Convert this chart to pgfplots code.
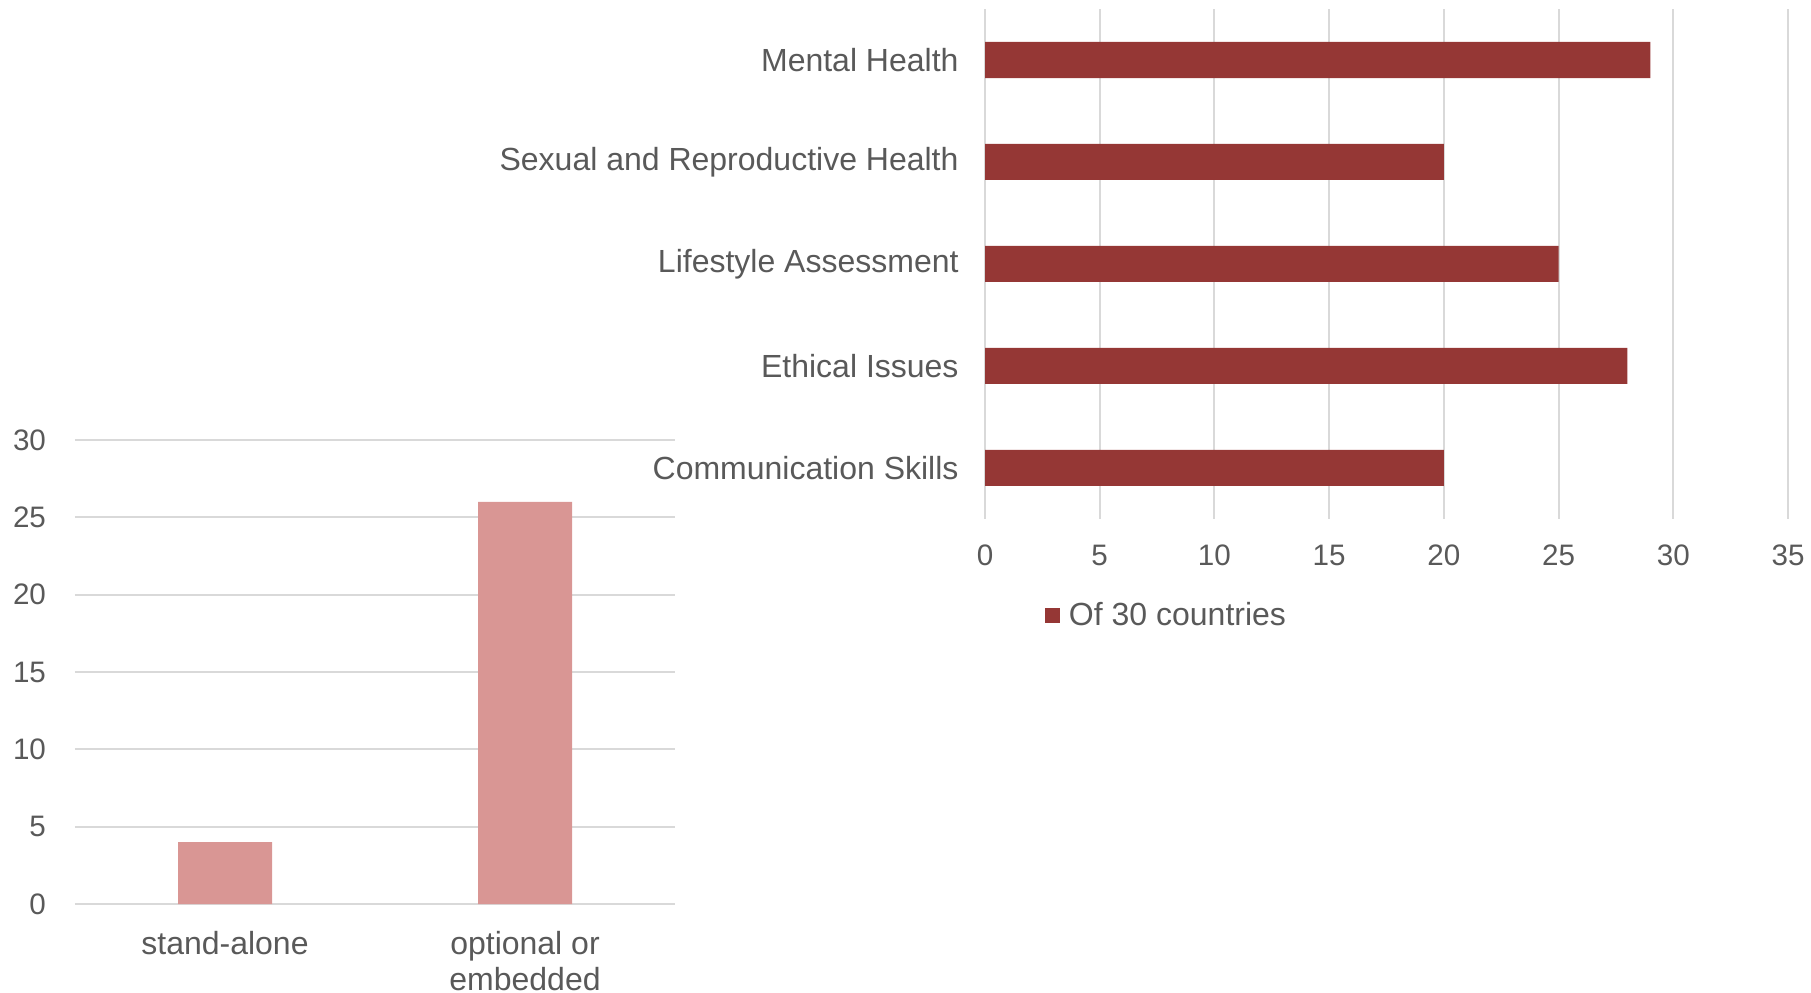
\documentclass[border=0pt]{standalone}
\usepackage{fontspec}
\setmainfont{Liberation Sans}
\usepackage{pgfplots}
\pgfplotsset{compat=1.18}
\definecolor{txt}{HTML}{595959}
\definecolor{gridc}{HTML}{D9D9D9}
\definecolor{darkbar}{HTML}{953735}
\definecolor{lightbar}{HTML}{D99694}
\begin{document}
\begin{tikzpicture}
\useasboundingbox (0,0) rectangle (905.5pt,496pt);
% left chart
\begin{axis}[
  at={(37.5pt,44pt)}, anchor=south west,
  scale only axis, width=300pt, height=232pt,
  ymin=0, ymax=30, ytick={0,5,...,30},
  xmin=-0.5, xmax=1.5, xtick={0,1},
  xticklabels={stand-alone,{optional or\\embedded}},
  ymajorgrids, grid style={gridc, line width=1pt},
  axis line style={draw=none}, major tick length=0pt,
  /pgf/number format/assume math mode=true,
  every y tick label/.append style={font=\fontsize{14.8}{17}\selectfont, text=txt, xshift=-11pt},
  every x tick label/.append style={font=\fontsize{16}{18}\selectfont, text=txt, yshift=-10pt, align=center},
  ybar, bar width=47pt,
]
\addplot[fill=lightbar, draw=none] coordinates {(0,4) (1,26)};
\end{axis}
% right chart
\begin{axis}[
  at={(492.5pt,236.5pt)}, anchor=south west,
  scale only axis, width=401.5pt, height=255pt,
  xmin=0, xmax=35, xtick={0,5,...,35},
  ymin=-0.5, ymax=4.5, ytick={0,1,2,3,4},
  yticklabels={Communication Skills, Ethical Issues, Lifestyle Assessment, Sexual and Reproductive Health, Mental Health},
  xmajorgrids, grid style={gridc, line width=1pt},
  axis line style={draw=none}, major tick length=0pt,
  /pgf/number format/assume math mode=true,
  every x tick label/.append style={font=\fontsize{14.8}{17}\selectfont, text=txt, yshift=-9.5pt},
  every y tick label/.append style={font=\fontsize{16}{19}\selectfont, text=txt, xshift=-9.7pt},
  xbar, bar width=18pt,
  legend style={at={(0.0747,-0.189)}, anchor=west, draw=none, fill=none, inner sep=0pt,
    font=\fontsize{16}{19}\selectfont, text=txt, nodes={inner sep=2pt},
    /tikz/every odd column/.append style={column sep=2.3pt}},
  legend image code/.code={\fill[darkbar] (0pt,-3.75pt) rectangle (7.5pt,3.75pt);},
]
\addplot[fill=darkbar, draw=none] coordinates {(20,0) (28,1) (25,2) (20,3) (29,4)};
\addlegendentry{Of 30 countries}
\end{axis}
\end{tikzpicture}
\end{document}
